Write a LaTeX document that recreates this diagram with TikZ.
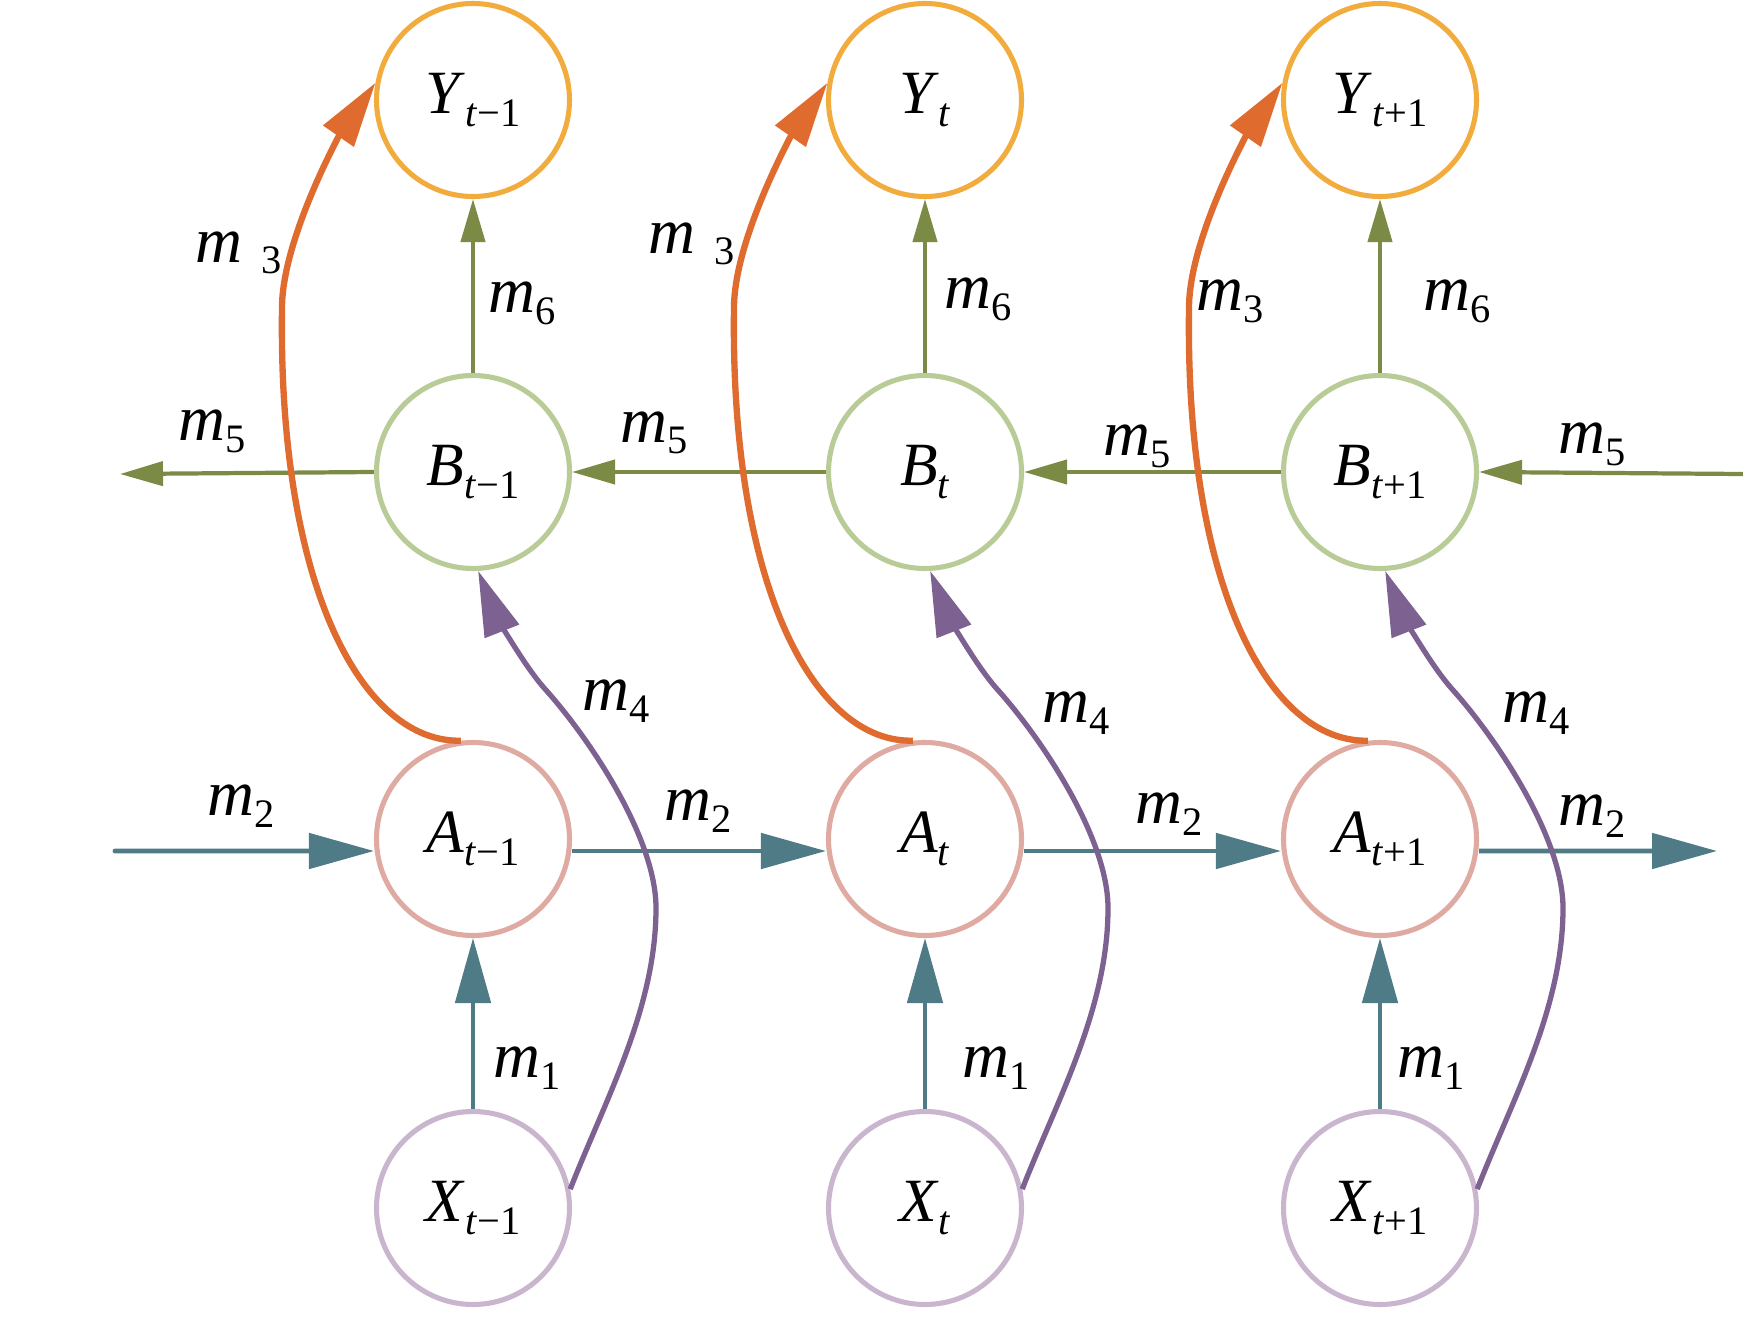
\documentclass[tikz,border=0pt]{standalone}
\usepackage{fontspec}
\setmainfont{Liberation Serif}
\usetikzlibrary{arrows.meta}
\definecolor{ycol}{HTML}{F2AC3E}
\definecolor{bcol}{HTML}{B9CB97}
\definecolor{acol}{HTML}{DFAAA2}
\definecolor{xcol}{HTML}{C9B5CD}
\definecolor{olive}{HTML}{7B8B45}
\definecolor{orangec}{HTML}{E06B2E}
\definecolor{tealc}{HTML}{4E7B86}
\definecolor{purplec}{HTML}{7D6190}
\newcommand{\vname}[2]{\textit{#1}\raisebox{-1.3mm}{\fontsize{11.5}{12}\selectfont\textit{t}#2}}
\newcommand{\msg}[1]{\textit{m}\raisebox{-1.2mm}{\fontsize{11.5}{12}\selectfont #1}}
\begin{document}
\begin{tikzpicture}[
  state/.style={circle,draw,line width=1.45pt,minimum size=1.93cm,inner sep=0pt,
    font=\fontsize{17.5}{20}\selectfont},
  lab/.style={anchor=base west,inner sep=0pt,font=\fontsize{18.5}{20}\selectfont},
  tealarr/.style={draw=tealc,line width=1.4pt,-{Triangle[length=6.5mm,width=3.5mm]}},
  olivearr/.style={draw=olive,line width=1.2pt,-{Triangle[length=4.3mm,width=2.4mm]}},
  orangearr/.style={draw=orangec,line width=1.8pt,-{Triangle[length=6.5mm,width=3.6mm]}},
  purplearr/.style={draw=purplec,line width=1.5pt,-{Triangle[length=6.5mm,width=3.6mm]}}]
  \useasboundingbox (0,0) rectangle (17.43,13.38);

  \foreach \i/\x/\s in {1/4.73/{−1},2/9.25/{},3/13.80/{+1}}{
    \node[state,draw=ycol] (Y\i) at (\x,12.38) {\vname{Y}{\s}};
    \node[state,draw=bcol] (B\i) at (\x,8.66) {\vname{B}{\s}};
    \node[state,draw=acol] (A\i) at (\x,4.99) {\vname{A}{\s}};
    \node[state,draw=xcol] (X\i) at (\x,1.30) {\vname{X}{\s}};
  }

  \coordinate (a0) at (1.15,4.87);
  \coordinate (a4) at (17.17,4.87);
  \coordinate (b0) at (1.20,8.64);
  \coordinate (b4) at (17.43,8.64);

  \foreach \i in {1,2,3}{
    \draw[tealarr] (X\i) -- (A\i);
    \draw[olivearr] (B\i) -- (Y\i);
  }
  \draw[tealarr,line cap=round] (a0) -- ([yshift=-1.2mm]A1.west);
  \draw[tealarr] ([yshift=-1.2mm]A1.east) -- ([yshift=-1.2mm]A2.west);
  \draw[tealarr] ([yshift=-1.2mm]A2.east) -- ([yshift=-1.2mm]A3.west);
  \draw[tealarr] ([yshift=-1.2mm]A3.east) -- (a4);
  \draw[olivearr] (B1.west) -- (b0);
  \draw[olivearr] (B2.west) -- (B1.east);
  \draw[olivearr] (B3.west) -- (B2.east);
  \draw[olivearr] (b4) -- (B3.east);

  \foreach \i/\x in {1/4.73,2/9.25,3/13.80}{
    \begin{scope}[xshift=\x cm]
      \draw[orangearr] (A\i.97) .. controls (-1.1,5.95) and (-1.95,7.5) .. (-1.91,10.3)
        .. controls (-1.91,11.0) and (-1.31,12.07) .. (Y\i.170);
      \draw[purplearr] (X\i.11) .. controls (1.33,2.40) and (1.83,3.3) .. (1.83,4.3)
        .. controls (1.83,5.0) and (1.17,5.99) .. (0.72,6.49)
        .. controls (0.47,6.77) and (0.19,7.32) .. (B\i.-87);
    \end{scope}
  }

  \node[lab] (m3a) at (1.95,10.76) {\textit{m}\hspace{1.9mm}\raisebox{-1.2mm}{\fontsize{11.5}{12}\selectfont 3}};
  \node[lab] (m3b) at (6.48,10.85) {\textit{m}\hspace{1.9mm}\raisebox{-1.2mm}{\fontsize{11.5}{12}\selectfont 3}};
  \node[lab] (m3c) at (11.96,10.28) {\msg{3}};
  \node[lab] (m6a) at (4.88,10.26) {\msg{6}};
  \node[lab] (m6b) at (9.44,10.30) {\msg{6}};
  \node[lab] (m6c) at (14.23,10.28) {\msg{6}};
  \node[lab] (m5a) at (1.78,8.98) {\msg{5}};
  \node[lab] (m5b) at (6.20,8.96) {\msg{5}};
  \node[lab] (m5c) at (11.03,8.83) {\msg{5}};
  \node[lab] (m5d) at (15.58,8.85) {\msg{5}};
  \node[lab] (m4a) at (5.82,6.28) {\msg{4}};
  \node[lab] (m4b) at (10.42,6.16) {\msg{4}};
  \node[lab] (m4c) at (15.02,6.16) {\msg{4}};
  \node[lab] (m2a) at (2.07,5.23) {\msg{2}};
  \node[lab] (m2b) at (6.64,5.18) {\msg{2}};
  \node[lab] (m2c) at (11.35,5.15) {\msg{2}};
  \node[lab] (m2d) at (15.58,5.13) {\msg{2}};
  \node[lab] (m1a) at (4.93,2.61) {\msg{1}};
  \node[lab] (m1b) at (9.62,2.61) {\msg{1}};
  \node[lab] (m1c) at (13.97,2.61) {\msg{1}};
\end{tikzpicture}
\end{document}
